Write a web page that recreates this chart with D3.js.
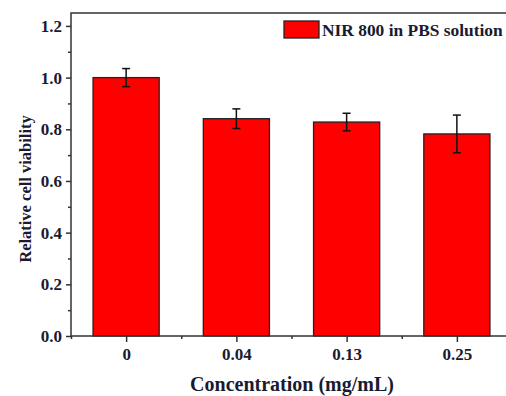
<!DOCTYPE html>
<html><head><meta charset="utf-8">
<script src="https://cdn.jsdelivr.net/npm/d3@7"></script>
<style>body{margin:0;background:#fff;}svg{display:block;}</style>
</head><body>
<script>
const categories = ["0", "0.04", "0.13", "0.25"];
const values = [1.0, 0.841, 0.828, 0.782];
const errors = [0.035, 0.038, 0.034, 0.073];
const yTicks = [0.0, 0.2, 0.4, 0.6, 0.8, 1.0, 1.2];
const seriesName = "NIR 800 in PBS solution";

const W = 506, H = 396;
const m = {left: 71, top: 13, bottom: 336, right: 512};
const svg = d3.select("body").append("svg").attr("width", W).attr("height", H);
const font = "'Liberation Serif','Times New Roman',serif";
const txt = "#1a1a30";

const x = d3.scaleLinear().domain([-0.5, 3.5]).range([m.left, m.right]);
const y = d3.scaleLinear().domain([0, 1.25]).range([m.bottom, m.top]);
const bw = (x(1) - x(0)) * 0.6;

// bars
svg.selectAll("rect.bar").data(values).enter().append("rect")
  .attr("x", (d, i) => x(i) - bw / 2).attr("y", d => y(d))
  .attr("width", bw).attr("height", d => y(0) - y(d))
  .attr("fill", "#ff0000").attr("stroke", "#222").attr("stroke-width", 1.3);

// error bars
const eb = svg.append("g").attr("stroke", "#111").attr("stroke-width", 1.5);
values.forEach((v, i) => {
  const cx = x(i), t = y(v + errors[i]), b = y(v - errors[i]);
  eb.append("line").attr("x1", cx).attr("x2", cx).attr("y1", t).attr("y2", b);
  eb.append("line").attr("x1", cx - 4).attr("x2", cx + 4).attr("y1", t).attr("y2", t);
  eb.append("line").attr("x1", cx - 4).attr("x2", cx + 4).attr("y1", b).attr("y2", b);
});

// frame
svg.append("rect").attr("x", m.left).attr("y", m.top)
  .attr("width", m.right - m.left).attr("height", m.bottom - m.top)
  .attr("fill", "none").attr("stroke", "#333").attr("stroke-width", 1.5);

// y axis
const yAxis = d3.axisLeft(y).tickValues(yTicks).tickFormat(d3.format(".1f")).tickSize(5).tickPadding(4);
const ga = svg.append("g").attr("transform", `translate(${m.left},0)`).call(yAxis);
ga.select(".domain").remove();
const yMinor = d3.axisLeft(y).tickValues([0.1, 0.3, 0.5, 0.7, 0.9, 1.1]).tickSize(3).tickFormat("");
const gm = svg.append("g").attr("transform", `translate(${m.left},0)`).call(yMinor);
gm.select(".domain").remove();

// x axis
const xAxis = d3.axisBottom(x).tickValues([0, 1, 2, 3]).tickFormat((d) => categories[d]).tickSize(6).tickPadding(6);
const gx = svg.append("g").attr("transform", `translate(0,${m.bottom})`).call(xAxis);
gx.select(".domain").remove();
const xMinor = d3.axisBottom(x).tickValues([-0.5, 0.5, 1.5, 2.5]).tickSize(3).tickFormat("");
const gxm = svg.append("g").attr("transform", `translate(0,${m.bottom})`).call(xMinor);
gxm.select(".domain").remove();

svg.selectAll(".tick line").attr("stroke", "#333").attr("stroke-width", 1.5);
svg.selectAll(".tick text").attr("font-family", font).attr("font-weight", "bold")
  .attr("font-size", 17).attr("fill", txt);

// axis titles
svg.append("text").attr("x", 292).attr("y", 391).attr("text-anchor", "middle")
  .attr("font-family", font).attr("font-weight", "bold").attr("font-size", 20).attr("fill", txt)
  .text("Concentration (mg/mL)");
svg.append("text").attr("transform", "translate(31,189) rotate(-90)").attr("text-anchor", "middle")
  .attr("font-family", font).attr("font-weight", "bold").attr("font-size", 16.5).attr("fill", txt)
  .text("Relative cell viability");

// legend
svg.append("rect").attr("x", 284).attr("y", 21).attr("width", 35).attr("height", 17)
  .attr("fill", "#ff0000").attr("stroke", "#222").attr("stroke-width", 1.3);
svg.append("text").attr("x", 322).attr("y", 35.5)
  .attr("font-family", font).attr("font-weight", "bold").attr("font-size", 17.4).attr("fill", txt)
  .text(seriesName);
</script>
</body></html>
